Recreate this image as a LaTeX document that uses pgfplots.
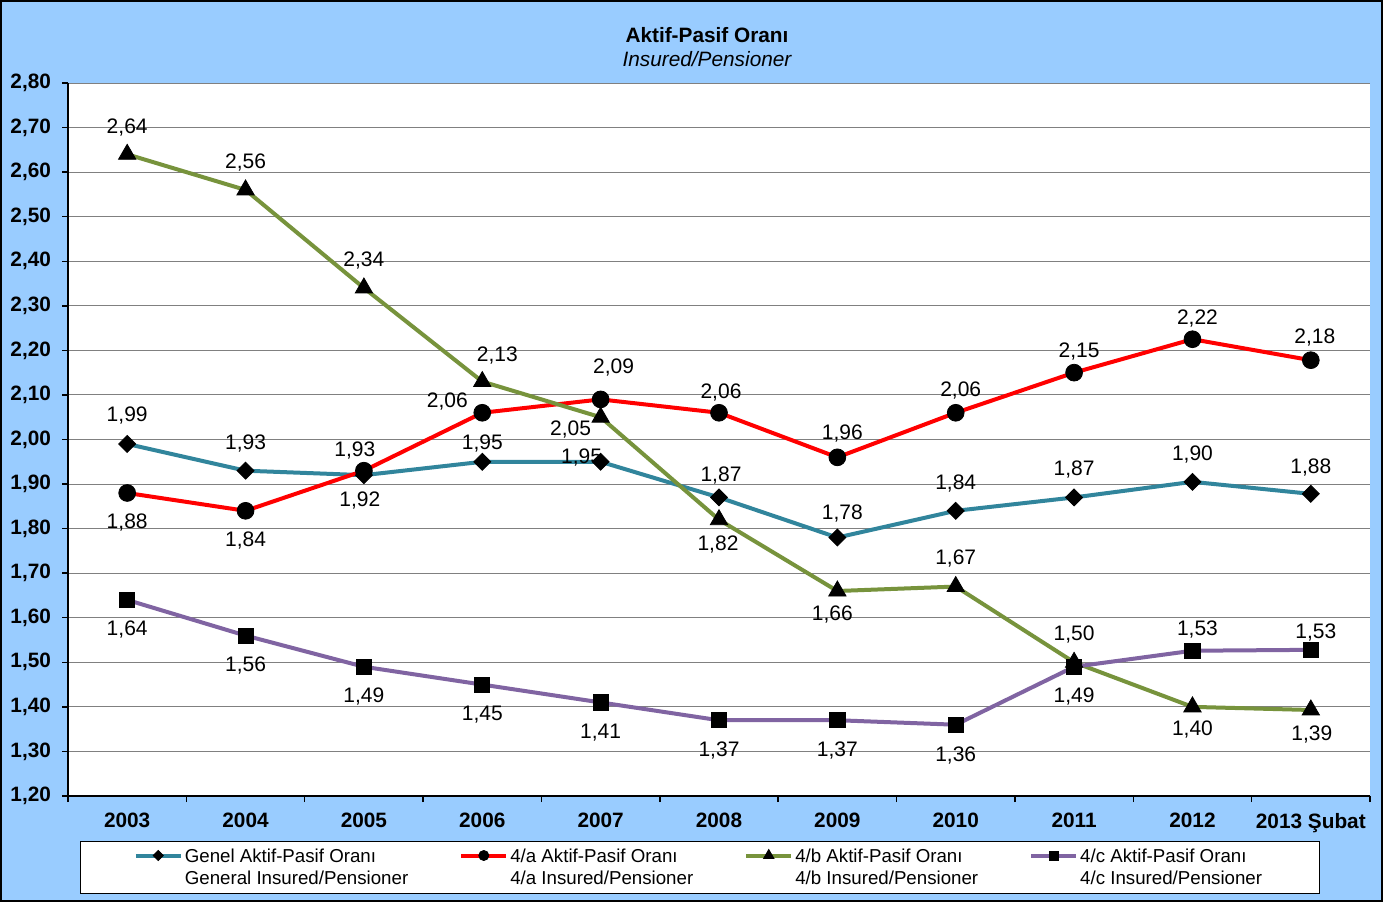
\documentclass[border=0pt]{standalone}
\usepackage{fontspec}
\setmainfont{Liberation Sans}
\usepackage{pgfplots}
\pgfplotsset{compat=1.18}
\usepackage{pgfplotstable}
\definecolor{bgblue}{RGB}{153,204,255}
\definecolor{cteal}{RGB}{49,133,156}
\definecolor{cred}{RGB}{255,0,0}
\definecolor{cgreen}{RGB}{119,147,60}
\definecolor{cpurple}{RGB}{128,100,162}

\pgfplotstableread{
x y lab dx dy
0 1.99 1,99 0 14
1 1.93 1,93 0 13.5
2 1.92 1,92 -2 -12.5
3 1.95 1,95 0 9
4 1.95 1,95 -9.5 2
5 1.87 1,87 1 11
6 1.78 1,78 2.5 12
7 1.84 1,84 0 13.5
8 1.87 1,87 0 14
9 1.905 1,90 0 13.5
10 1.878 1,88 0 13
}\genel

\pgfplotstableread{
x y lab dx dy
0 1.88 1,88 0 -15
1 1.84 1,84 0 -15
2 1.93 1,93 -4.5 10
3 2.06 2,06 -17.5 5.5
4 2.09 2,09 6.5 16
5 2.06 2,06 1 10
6 1.96 1,96 2.5 12
7 2.06 2,06 2.5 11
8 2.15 2,15 2.5 10.5
9 2.225 2,22 2.5 10.5
10 2.178 2,18 2 11.5
}\fa

\pgfplotstableread{
x y lab dx dy
0 2.64 2,64 0 13.5
1 2.56 2,56 0 13.5
2 2.34 2,34 0 13.5
3 2.13 2,13 7.5 13
4 2.05 2,05 -15 -6
5 1.82 1,82 -0.5 -12.5
6 1.66 1,66 -2.5 -11.5
7 1.67 1,67 0 14
8 1.50 1,50 0 14
9 1.40 1,40 0 -11.5
10 1.393 1,39 0.5 -12.5
}\fb

\pgfplotstableread{
x y lab dx dy
0 1.64 1,64 0 -15
1 1.56 1,56 0 -15
2 1.49 1,49 0 -15
3 1.45 1,45 0 -15
4 1.41 1,41 0 -15
5 1.37 1,37 0 -15
6 1.37 1,37 0 -15
7 1.36 1,36 0 -15.5
8 1.49 1,49 0 -15
9 1.526 1,53 2.5 10.5
10 1.528 1,53 2.5 8.5
}\fc

\pgfplotsset{
  lbl/.style={
    point meta=explicit symbolic,
    nodes near coords,
    visualization depends on={\thisrow{dx} \as \dx},
    visualization depends on={\thisrow{dy} \as \dy},
    every node near coord/.append style={anchor=center, inner sep=0pt,
      xshift=\dx pt, yshift=\dy pt, text=black,
      font=\fontsize{10.5}{12}\selectfont},
  },
}

\begin{document}
\begin{tikzpicture}
\fill[bgblue] (0,0) rectangle (691.5pt,451pt);
\draw[black, line width=1pt] (0.5pt,0.5pt) rectangle (691pt,450.5pt);
\node[font=\fontsize{10.4}{12}\selectfont\bfseries, inner sep=0pt] at (353.5pt,433.5pt) {Aktif-Pasif Oranı};
\node[font=\fontsize{10.4}{12}\selectfont\itshape, inner sep=0pt] at (353.5pt,421.5pt) {Insured/Pensioner};
\begin{axis}[
  at={(34pt,53pt)}, anchor=south west,
  scale only axis, width=651pt, height=356.5pt,
  xmin=-0.5, xmax=10.5, ymin=1.2, ymax=2.8,
  clip=false,
  axis x line*=bottom, axis y line*=left,
  axis line style={-, black, line width=0.7pt},
  axis background/.style={fill=white},
  tick align=outside, major tick length=3pt,
  tick style={black, line width=0.7pt},
  xtick={-0.5,0.5,...,10.5}, xticklabels={},
  extra x ticks={0,1,2,3,4,5,6,7,8,9,10},
  extra x tick labels={2003,2004,2005,2006,2007,2008,2009,2010,2011,2012,2013 Şubat},
  extra x tick style={major tick length=0pt, grid=none,
    tick label style={font=\fontsize{10.4}{12}\selectfont\bfseries, yshift=-5pt}},
  ytick={1.2,1.3,1.4,1.5,1.6,1.7,1.8,1.9,2.0,2.1,2.2,2.3,2.4,2.5,2.6,2.7,2.8},
  yticklabel style={font=\fontsize{10.4}{12}\selectfont\bfseries, xshift=-2pt,
    /pgf/number format/.cd, use comma, fixed, fixed zerofill, precision=2, assume math mode=true},
  ymajorgrids=true,
  grid style={draw=black!50, line width=0.5pt},
  legend columns=4,
  legend style={at={(0.4854,-0.1003)}, anchor=center, draw=black, line width=0.6pt,
    fill=white, inner xsep=26.5pt, inner ysep=1pt, cells={anchor=west},
    font=\fontsize{9.35}{11}\selectfont,
    /tikz/every odd column/.append style={column sep=-1pt},
    /tikz/every even column/.append style={column sep=23.5pt}},
  legend image code/.code={\draw[mark repeat=2, mark phase=2, #1,
      /tikz/every mark/.append style={scale=0.6}]
      plot coordinates {(0pt,6pt) (11.25pt,6pt) (22.5pt,6pt)};},
]
\addplot[cteal, line width=2pt, mark=square*, mark size=3pt,
  mark options={black, fill=black, rotate=45, line width=0.4pt}, lbl]
  table[x=x, y=y, meta=lab] {\genel};
\addlegendentry{\begin{tabular}[b]{@{}l@{}}Genel Aktif-Pasif Oranı\\General Insured/Pensioner\end{tabular}}
\addplot[cred, line width=2pt, mark=*, mark size=4.2pt,
  mark options={black, fill=black, line width=0.4pt}, lbl]
  table[x=x, y=y, meta=lab] {\fa};
\addlegendentry{\begin{tabular}[b]{@{}l@{}}4/a Aktif-Pasif Oranı\\4/a Insured/Pensioner\end{tabular}}
\addplot[cgreen, line width=2pt, mark=triangle*, mark size=5pt,
  mark options={black, fill=black, line width=0.4pt}, lbl]
  table[x=x, y=y, meta=lab] {\fb};
\addlegendentry{\begin{tabular}[b]{@{}l@{}}4/b Aktif-Pasif Oranı\\4/b Insured/Pensioner\end{tabular}}
\addplot[cpurple, line width=2pt, mark=square*, mark size=3.8pt,
  mark options={black, fill=black, line width=0.4pt}, lbl]
  table[x=x, y=y, meta=lab] {\fc};
\addlegendentry{\begin{tabular}[b]{@{}l@{}}4/c Aktif-Pasif Oranı\\4/c Insured/Pensioner\end{tabular}}
\end{axis}
\pgfresetboundingbox
\useasboundingbox (0,0) rectangle (691.5pt,451pt);
\end{tikzpicture}
\end{document}
